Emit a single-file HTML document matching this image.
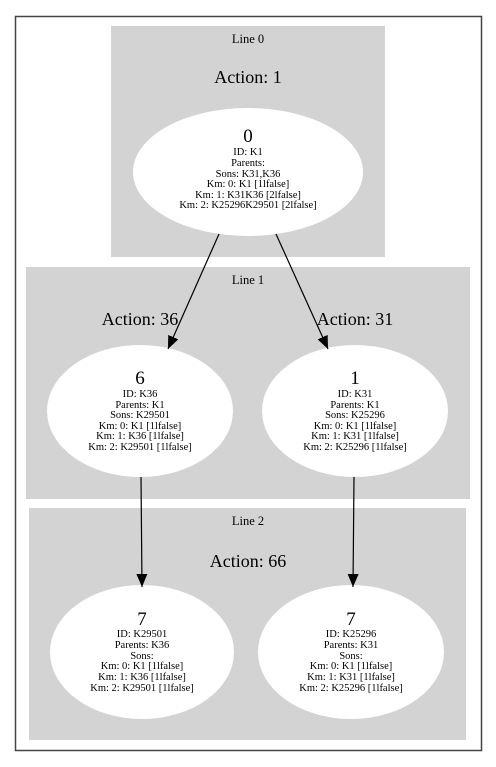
<!DOCTYPE html>
<html><head><style>body{margin:0;background:#fff}svg{display:block}text{font-family:"Liberation Serif",serif;fill:#000}</style></head>
<body>
<svg width="496" height="767" viewBox="0 0 496 767" xmlns="http://www.w3.org/2000/svg">
<defs><marker id="a" markerWidth="14" markerHeight="12" refX="13" refY="5.5" orient="auto" markerUnits="userSpaceOnUse"><path d="M0,0 L13,5.5 L0,11 z" fill="#000"/></marker></defs>
<rect x="15.5" y="16.5" width="466" height="734" fill="#fff" stroke="#444" stroke-width="1.5"/>
<rect x="111" y="26" width="274" height="231" fill="#d3d3d3"/>
<rect x="26" y="267" width="444" height="232" fill="#d3d3d3"/>
<rect x="29" y="508" width="437" height="232" fill="#d3d3d3"/>
<g text-anchor="middle">
<text x="248" y="43" font-size="12.5">Line 0</text>
<text x="248" y="83" font-size="18">Action: 1</text>
<text x="248" y="284" font-size="12.5">Line 1</text>
<text x="140" y="325" font-size="18">Action: 36</text>
<text x="355" y="325" font-size="18">Action: 31</text>
<text x="248" y="525" font-size="12.5">Line 2</text>
<text x="248" y="567" font-size="18">Action: 66</text>
</g>
<ellipse cx="248" cy="172" rx="115" ry="64" fill="#fff"/>
<ellipse cx="140" cy="411" rx="93" ry="66" fill="#fff"/>
<ellipse cx="355" cy="411" rx="93" ry="66" fill="#fff"/>
<ellipse cx="142" cy="652" rx="92" ry="67" fill="#fff"/>
<ellipse cx="351" cy="652" rx="93" ry="67" fill="#fff"/>
<g stroke="#000" stroke-width="1.2" marker-end="url(#a)">
<line x1="219" y1="234" x2="168" y2="349"/>
<line x1="276" y1="234" x2="328" y2="349"/>
<line x1="141" y1="477" x2="142" y2="587"/>
<line x1="354" y1="477" x2="353" y2="587"/>
</g>
<g text-anchor="middle" font-size="10.5">
<text x="248" y="142" font-size="19">0</text>
<text x="248" y="155">ID: K1</text><text x="248" y="166">Parents:</text><text x="248" y="177">Sons: K31,K36</text><text x="248" y="187">Km: 0: K1 [1lfalse]</text><text x="248" y="198">Km: 1: K31K36 [2lfalse]</text><text x="248" y="208">Km: 2: K25296K29501 [2lfalse]</text>
<text x="140" y="384" font-size="19">6</text>
<text x="140" y="397">ID: K36</text><text x="140" y="408">Parents: K1</text><text x="140" y="418">Sons: K29501</text><text x="140" y="429">Km: 0: K1 [1lfalse]</text><text x="140" y="439">Km: 1: K36 [1lfalse]</text><text x="140" y="450">Km: 2: K29501 [1lfalse]</text>
<text x="355" y="384" font-size="19">1</text>
<text x="355" y="397">ID: K31</text><text x="355" y="408">Parents: K1</text><text x="355" y="418">Sons: K25296</text><text x="355" y="429">Km: 0: K1 [1lfalse]</text><text x="355" y="439">Km: 1: K31 [1lfalse]</text><text x="355" y="450">Km: 2: K25296 [1lfalse]</text>
<text x="142" y="625" font-size="19">7</text>
<text x="142" y="637">ID: K29501</text><text x="142" y="648">Parents: K36</text><text x="142" y="659">Sons:</text><text x="142" y="669">Km: 0: K1 [1lfalse]</text><text x="142" y="680">Km: 1: K36 [1lfalse]</text><text x="142" y="691">Km: 2: K29501 [1lfalse]</text>
<text x="351" y="625" font-size="19">7</text>
<text x="351" y="637">ID: K25296</text><text x="351" y="648">Parents: K31</text><text x="351" y="659">Sons:</text><text x="351" y="669">Km: 0: K1 [1lfalse]</text><text x="351" y="680">Km: 1: K31 [1lfalse]</text><text x="351" y="691">Km: 2: K25296 [1lfalse]</text>
</g>
</svg>
</body></html>
